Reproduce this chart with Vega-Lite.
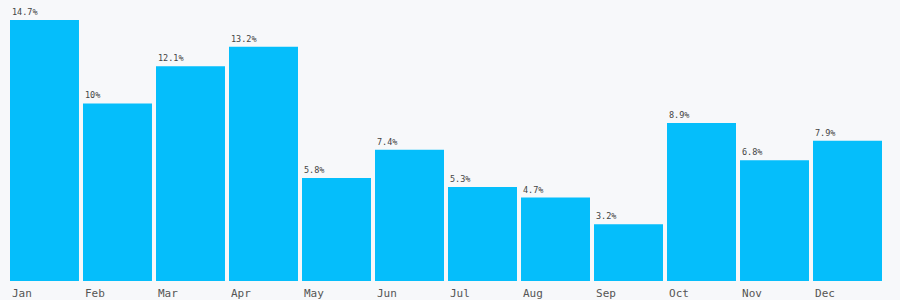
{
  "$schema": "https://vega.github.io/schema/vega-lite/v6.json",
  "autosize": "none",
  "width": 872,
  "height": 281,
  "padding": {"left": 10, "top": 0, "right": 18, "bottom": 19},
  "background": "#f7f8fa",
  "config": {"view": {"stroke": null}, "font": "DejaVu Sans Mono"},
  "data": {"values": [
    {"month": "Jan", "value": 14.7},
    {"month": "Feb", "value": 10},
    {"month": "Mar", "value": 12.1},
    {"month": "Apr", "value": 13.2},
    {"month": "May", "value": 5.8},
    {"month": "Jun", "value": 7.4},
    {"month": "Jul", "value": 5.3},
    {"month": "Aug", "value": 4.7},
    {"month": "Sep", "value": 3.2},
    {"month": "Oct", "value": 8.9},
    {"month": "Nov", "value": 6.8},
    {"month": "Dec", "value": 7.9}
  ]},
  "transform": [{"calculate": "format(datum.value, '.1~f') + '%'", "as": "label"}],
  "encoding": {
    "x": {"field": "month", "type": "nominal", "sort": null,
      "scale": {"paddingInner": 0.055, "paddingOuter": 0},
      "axis": {"title": null, "domain": false, "ticks": false,
        "labelAlign": "left", "labelAngle": 0, "labelOffset": -32.5, "labelPadding": 6,
        "labelFontSize": 11, "labelColor": "#555555", "labelFont": "DejaVu Sans Mono"}},
    "y": {"field": "value", "type": "quantitative",
      "scale": {"domain": [0, 15.83], "nice": false, "zero": true},
      "axis": null}
  },
  "layer": [
    {"mark": {"type": "bar", "color": "#05befb"}},
    {"mark": {"type": "text", "align": "left", "baseline": "alphabetic", "dx": -32.5, "dy": -5,
      "fontSize": 8.5, "color": "#444444", "font": "DejaVu Sans Mono"},
     "encoding": {"text": {"field": "label"}}}
  ]
}
